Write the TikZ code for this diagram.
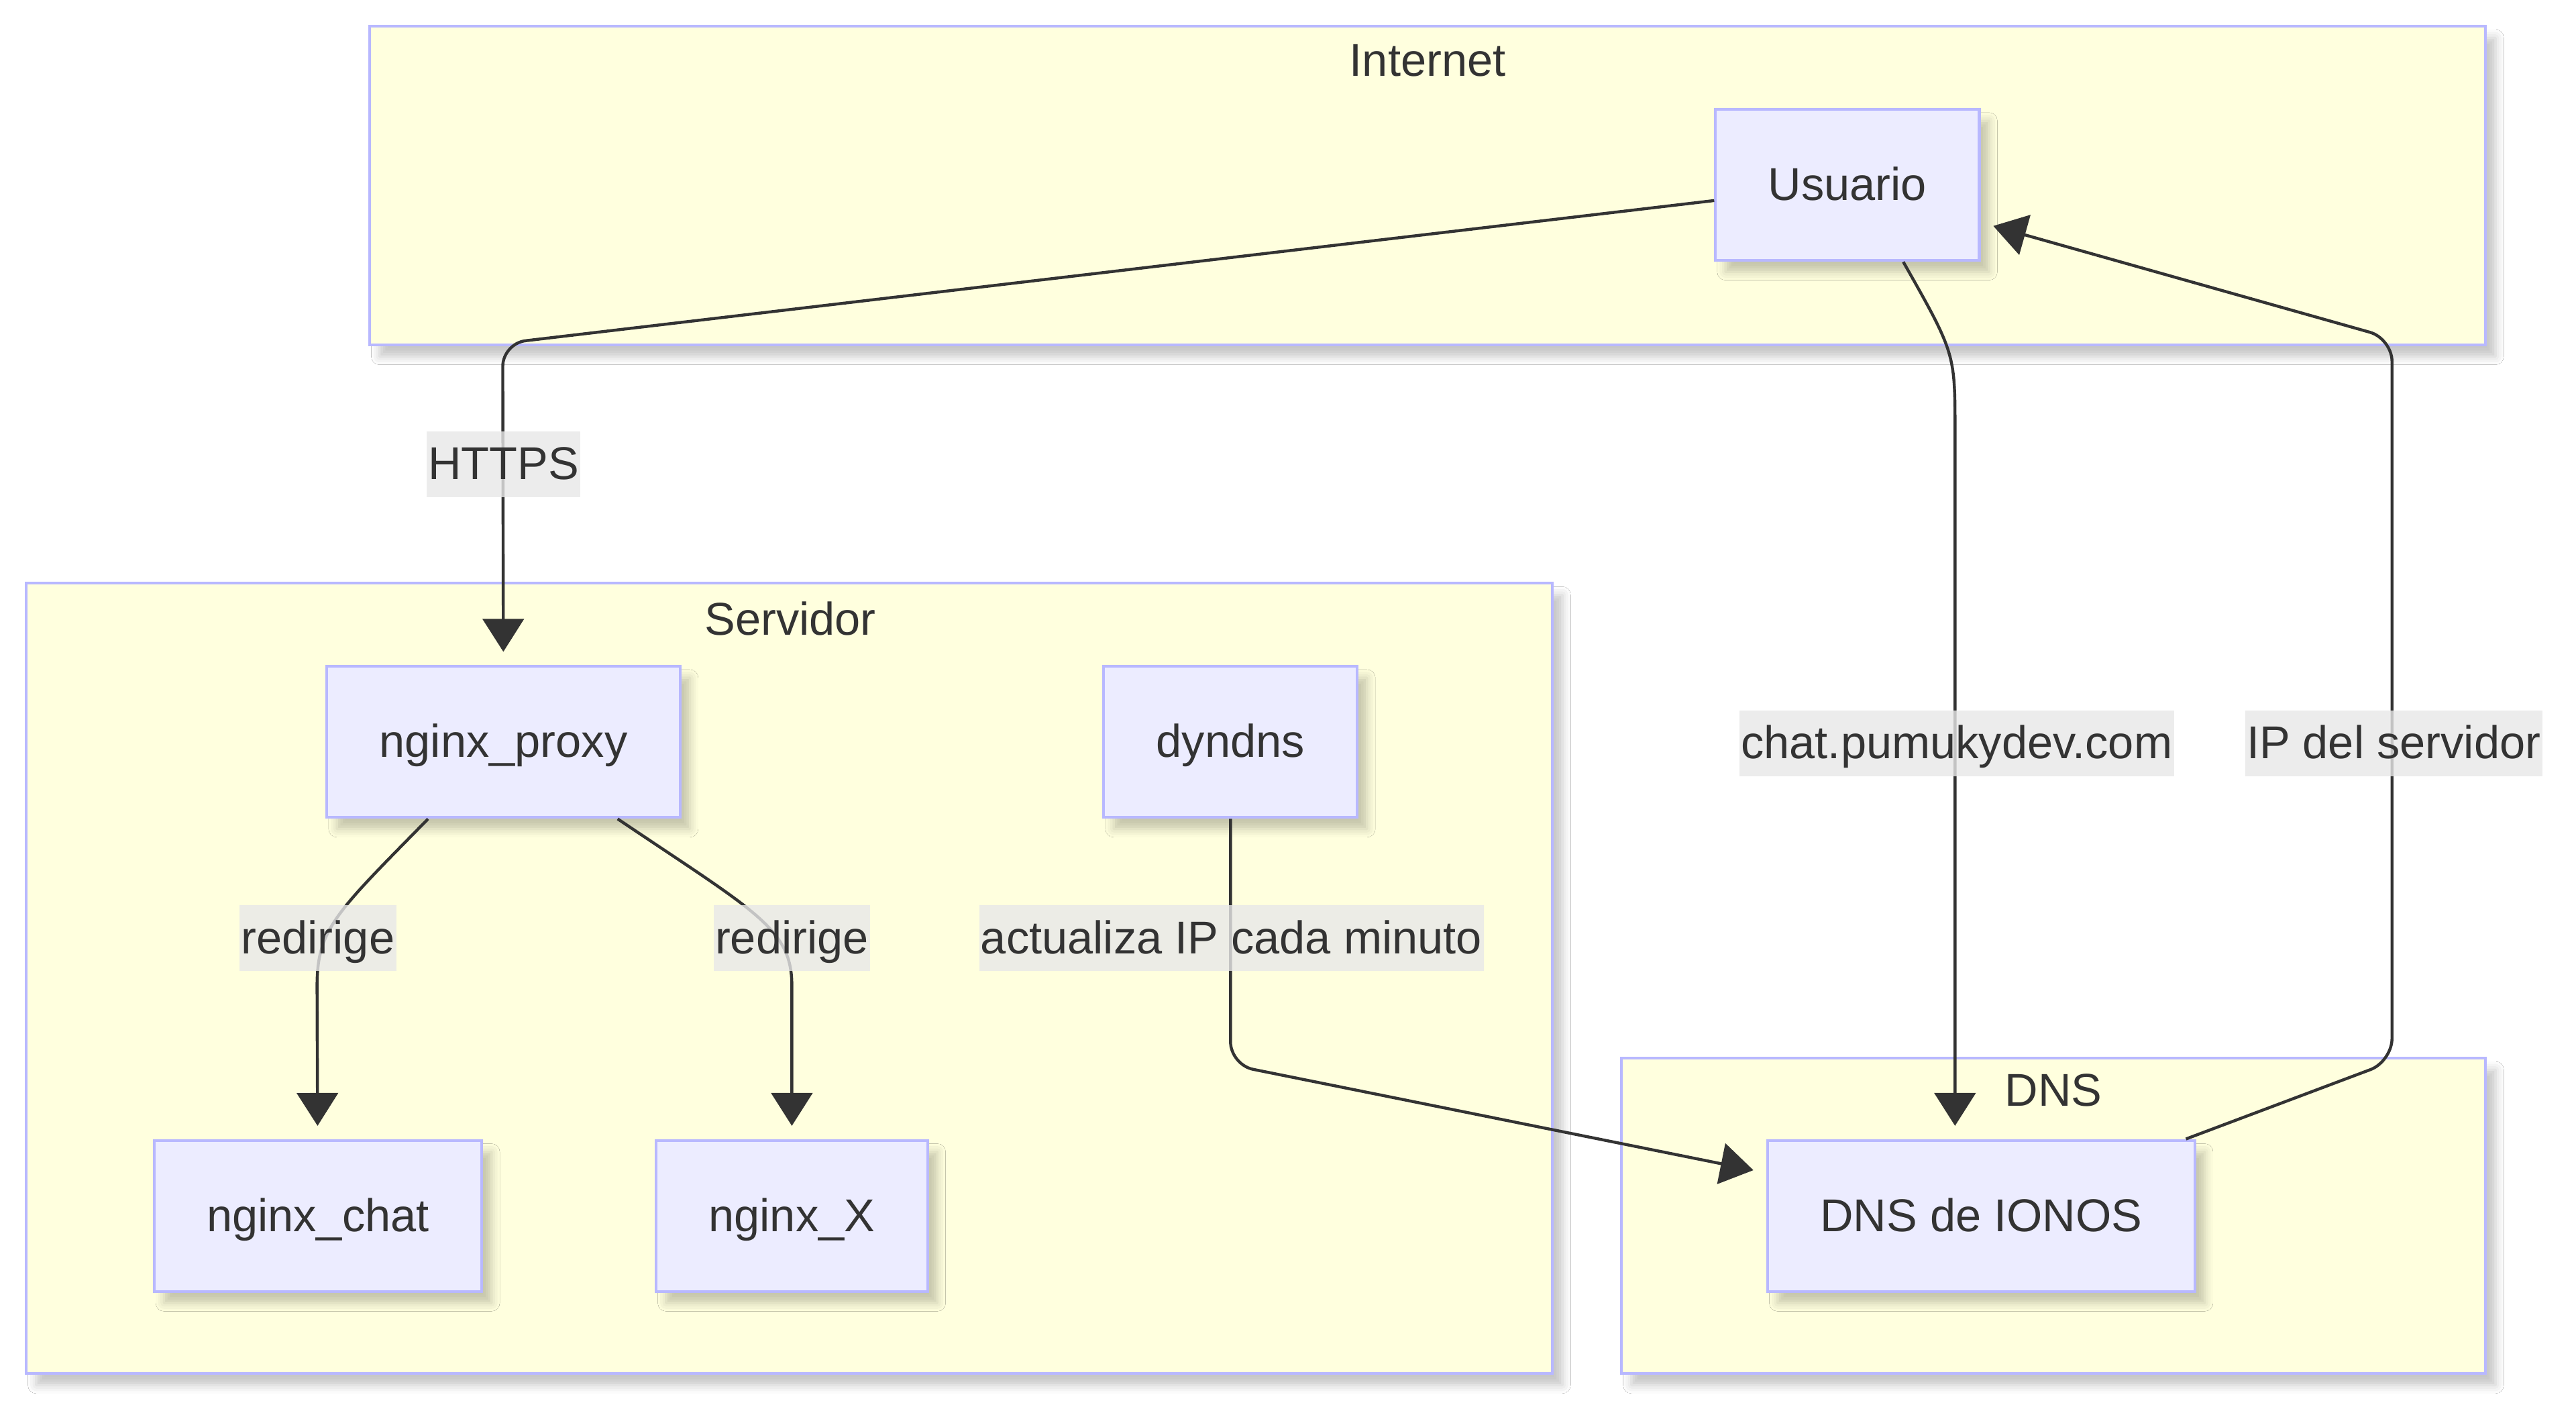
\documentclass[tikz,border=0pt]{standalone}
\usepackage{fontspec}
\setmainfont{Liberation Sans}
\usetikzlibrary{arrows.meta,shadows.blur}
\definecolor{clusterfill}{HTML}{FFFFDE}
\definecolor{boxfill}{HTML}{ECECFF}
\definecolor{boxline}{HTML}{B8B8FF}
\definecolor{ink}{HTML}{333333}
\definecolor{tagfill}{HTML}{E8E8E8}

\begin{document}
\begin{tikzpicture}[x=0.5pt,y=-0.5pt,
      every node/.style={font=\fontsize{14pt}{17pt}\selectfont,text=ink,
            text height=10pt,text depth=0.7pt},
      soft_shadow/.style={blur shadow={shadow xshift=3pt,shadow yshift=-3.5pt,
            shadow opacity=22,shadow blur radius=2.5pt}},
      cluster/.style={draw=boxline,fill=clusterfill,line width=0.85pt,soft_shadow},
      box/.style={draw=boxline,fill=boxfill,line width=0.85pt,
            minimum height=46pt,inner xsep=16pt,soft_shadow},
      flow/.style={draw=ink,line width=0.9pt,
            -{Triangle[length=10pt,width=12.5pt]},shorten >=4pt},
      tag/.style={fill=tagfill,fill opacity=0.8,text opacity=1,
            inner xsep=0.5pt,inner ysep=0pt,minimum height=20pt}]

      \useasboundingbox[fill=white] (0,0) rectangle (1568,856);

      \draw[cluster] (225,16) rectangle (1513,210);
      \draw[cluster] (16,355) rectangle (945,836);
      \draw[cluster] (987,644) rectangle (1513,836);

      \node (title_internet) at (869,37) {Internet};
      \node (title_servidor) at (481,377) {Servidor};
      \node (title_dns) at (1250,664) {DNS};

      \node[box] (usuario) at (1124.5,112.5) {Usuario};
      \node[box] (nginx_proxy) at (306.5,451.5) {nginx\_proxy};
      \node[box] (dyndns) at (749,451.5) {dyndns};
      \node[box] (nginx_chat) at (193.5,740) {nginx\_chat};
      \node[box] (nginx_x) at (482,740) {nginx\_X};
      \node[box] (dns_ionos) at (1206,740) {DNS de IONOS};

      \draw[flow,rounded corners=7pt]
            (usuario) -- (306,209) -- (nginx_proxy);
      \draw[flow]
            ([xshift=17pt]usuario.south)
            .. controls (1190,215) .. (1190,262)
            -- (1190,0 |- dns_ionos.north);
      \draw[flow,rounded corners=7pt]
            (dns_ionos) -- (1456,646) -- (1456,206) -- (usuario);
      \draw[flow]
            (nginx_proxy)
            .. controls (205,555) and (193,565) .. (193,600)
            -- (nginx_chat);
      \draw[flow]
            (nginx_proxy)
            .. controls (460,555) and (482,565) .. (482,600)
            -- (nginx_x);
      \draw[flow,rounded corners=7pt]
            (dyndns) -- (749,648) -- (dns_ionos);

      \node[tag] (tag_https) at (306.5,282.5) {HTTPS};
      \node[tag] (tag_chat) at (1191,452.5) {chat.pumukydev.com};
      \node[tag] (tag_ip) at (1457,452.5) {IP del servidor};
      \node[tag] (tag_chat_redirige) at (193.5,571) {redirige};
      \node[tag] (tag_x_redirige) at (482,571) {redirige};
      \node[tag] (tag_dyndns) at (749.5,571) {actualiza IP cada minuto};
\end{tikzpicture}
\end{document}
